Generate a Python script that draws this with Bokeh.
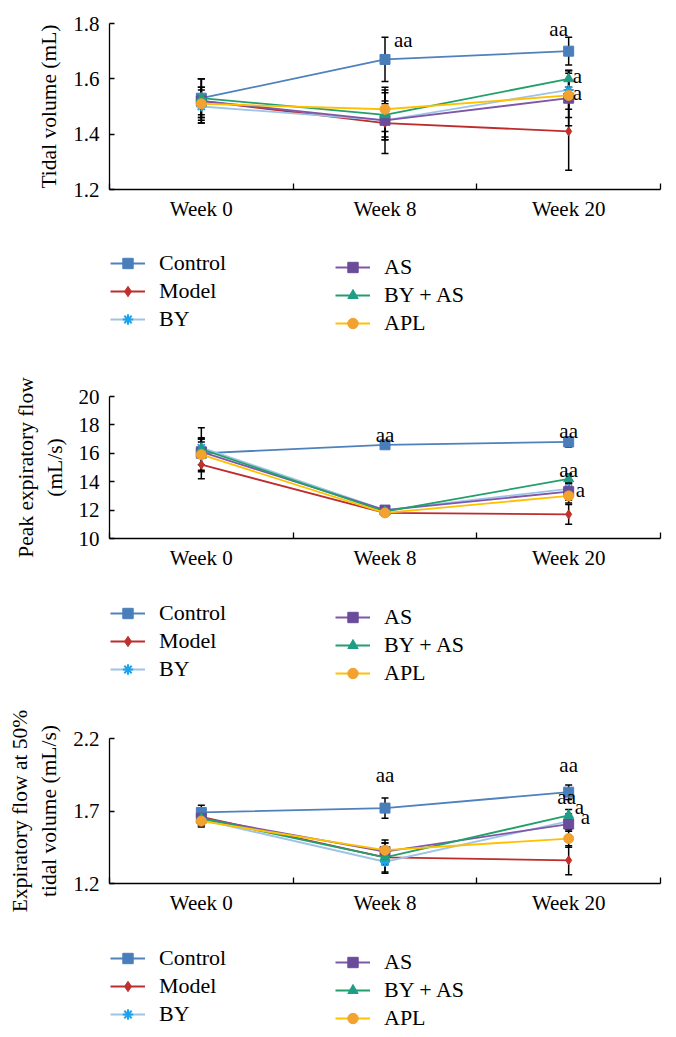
from bokeh.plotting import figure
from bokeh.models import (FixedTicker, Legend, LegendItem, ColumnDataSource, Whisker,
                          TeeHead, Range1d)
from bokeh.layouts import column
from bokeh.embed import file_html
from bokeh.resources import INLINE
from bokeh.core.properties import value

# ---------------- data ----------------
weeks = ["Week 0", "Week 8", "Week 20"]
groups = ["Control", "Model", "BY", "AS", "BY + AS", "APL"]

# Tidal volume (mL): one row per group, one value per week
tidal_means = [
    [1.53, 1.67, 1.70],
    [1.52, 1.44, 1.41],
    [1.50, 1.45, 1.56],
    [1.52, 1.45, 1.53],
    [1.53, 1.47, 1.60],
    [1.51, 1.49, 1.54],
]
tidal_sd = [
    [0.07, 0.08, 0.05],
    [0.08, 0.11, 0.14],
    [0.06, 0.07, 0.07],
    [0.05, 0.06, 0.10],
    [0.07, 0.09, 0.03],
    [0.06, 0.08, 0.08],
]
tidal_ticks = [1.2, 1.4, 1.6, 1.8]

# Peak expiratory flow (mL/s)
peak_means = [
    [16.0, 16.6, 16.8],
    [15.2, 11.8, 11.7],
    [16.4, 12.0, 13.5],
    [16.1, 12.0, 13.3],
    [16.3, 11.9, 14.2],
    [15.9, 11.8, 13.0],
]
peak_sd = [
    [1.8, 0.15, 0.35],
    [0.5, 0.2, 0.7],
    [0.7, 0.2, 0.4],
    [0.9, 0.2, 0.6],
    [0.5, 0.2, 0.35],
    [1.1, 0.2, 0.5],
]
peak_ticks = [10, 12, 14, 16, 18, 20]

# Expiratory flow at 50% tidal volume (mL/s)
ef50_means = [
    [1.69, 1.72, 1.83],
    [1.66, 1.38, 1.36],
    [1.64, 1.35, 1.63],
    [1.65, 1.42, 1.61],
    [1.65, 1.38, 1.67],
    [1.63, 1.43, 1.51],
]
ef50_sd = [
    [0.05, 0.07, 0.05],
    [0.04, 0.10, 0.10],
    [0.04, 0.08, 0.05],
    [0.05, 0.08, 0.05],
    [0.04, 0.05, 0.04],
    [0.04, 0.05, 0.06],
]
ef50_ticks = [1.2, 1.7, 2.2]

# significance marks: text, week index, y (data units)
tidal_sig_text = ["aa", "aa", "a", "a"]
tidal_sig_week = [1, 2, 2, 2]
tidal_sig_y = [1.74, 1.78, 1.61, 1.55]
peak_sig_text = ["aa", "aa", "aa", "a"]
peak_sig_week = [1, 2, 2, 2]
peak_sig_y = [17.3, 17.55, 14.8, 13.45]
ef50_sig_text = ["aa", "aa", "aa", "a", "a"]
ef50_sig_week = [1, 2, 2, 2, 2]
ef50_sig_y = [1.95, 2.02, 1.80, 1.73, 1.66]

# ---------------- styles ----------------
FONT = "Liberation Serif"
line_colors = ["#4F81BD", "#BE2D2D", "#9DC3E6", "#7E57A8", "#22A06B", "#FFC000"]
marker_fill = ["#4A7EBB", "#C0302C", "#1CA3EC", "#6B4C9A", "#1E9E84", "#F2A22E"]
markers = ["square", "diamond", "asterisk", "square", "triangle", "circle"]
marker_sizes = [10, 9, 10, 10, 10, 10]
W = 676
FRAME_LEFT = 109


def add_series(p, xs, ys, g, size_scale=1.0):
    lr = p.line(xs, ys, line_color=line_colors[g], line_width=1.8)
    mr = p.scatter(xs, ys, marker=markers[g], size=marker_sizes[g] * size_scale,
                   fill_color=marker_fill[g], line_color=marker_fill[g],
                   line_width=2 if markers[g] == "asterisk" else 1)
    return lr, mr


def make_panel(means, sds, ticks, ylabel, sig_text, sig_week, sig_y, sig_dx, sig_align,
               height, b_top, frame_h):
    b_bottom = height - b_top - frame_h
    p = figure(width=W, height=height, output_backend="svg", toolbar_location=None,
               x_range=Range1d(-0.5, 2.5), y_range=Range1d(ticks[0], ticks[-1]),
               min_border_left=FRAME_LEFT, min_border_right=16, min_border_top=b_top,
               min_border_bottom=b_bottom)
    p.grid.visible = False
    p.outline_line_color = None

    xs = list(range(len(weeks)))

    for g in range(len(groups)):
        src = ColumnDataSource(dict(
            x=xs,
            upper=[m + s for m, s in zip(means[g], sds[g])],
            lower=[m - s for m, s in zip(means[g], sds[g])],
        ))
        w = Whisker(source=src, base="x", upper="upper", lower="lower",
                    line_color="black", line_width=1.5,
                    upper_head=TeeHead(size=7, line_color="black", line_width=1.5),
                    lower_head=TeeHead(size=7, line_color="black", line_width=1.5))
        p.add_layout(w)

    for g in range(len(groups)):
        add_series(p, xs, means[g], g)

    sig_src = ColumnDataSource(dict(x=sig_week, y=sig_y, t=sig_text, dx=sig_dx, al=sig_align))
    p.text(x="x", y="y", text="t", x_offset="dx", text_align="al", source=sig_src,
           text_font=value(FONT), text_font_size="21px", text_color="black",
           text_baseline="alphabetic")

    xa = p.xaxis[0]
    xa.ticker = FixedTicker(ticks=xs, minor_ticks=[-0.5, 0.5, 1.5, 2.5])
    xa.major_label_overrides = {i: w for i, w in enumerate(weeks)}
    xa.major_tick_in = 0
    xa.major_tick_out = 0
    xa.minor_tick_in = 6
    xa.minor_tick_out = 0
    xa.minor_tick_line_color = "black"
    xa.axis_line_color = "black"
    xa.axis_line_width = 1.3
    xa.minor_tick_line_width = 1.3
    xa.major_label_text_font = FONT
    xa.major_label_text_font_size = "21px"
    xa.major_label_text_color = "black"
    xa.major_label_standoff = 7

    ya = p.yaxis[0]
    ya.ticker = FixedTicker(ticks=ticks)
    ya.major_tick_in = 5
    ya.major_tick_out = 0
    ya.minor_tick_in = 0
    ya.minor_tick_out = 0
    ya.axis_line_color = "black"
    ya.axis_line_width = 1.3
    ya.major_tick_line_width = 1.3
    ya.major_label_text_font = FONT
    ya.major_label_text_font_size = "21px"
    ya.major_label_text_color = "black"
    ya.major_label_standoff = 10
    ya.axis_label = ylabel
    ya.axis_label_text_font = FONT
    ya.axis_label_text_font_size = "21.5px"
    ya.axis_label_text_font_style = "normal"
    ya.axis_label_text_color = "black"
    ya.axis_label_standoff = 9
    return p


def make_legend(height):
    # the column layout aligns this figure's frame with the panels' frames (left = FRAME_LEFT)
    p = figure(width=W, height=height, output_backend="svg", toolbar_location=None,
               x_range=Range1d(0, 1), y_range=Range1d(0, 1),
               min_border_left=FRAME_LEFT, min_border_right=16,
               min_border_top=0, min_border_bottom=0,
               x_axis_type=None, y_axis_type=None)
    p.grid.visible = False
    p.outline_line_color = None
    items = []
    nan = float("nan")
    for g in range(len(groups)):
        # placeholder renderers (not drawn) that carry each series' style for its key
        lr, mr = add_series(p, [nan], [nan], g, size_scale=0.85)
        items.append(LegendItem(label=groups[g], renderers=[lr, mr]))
    item_h, gap = 26, 2
    leg_h = 3 * item_h + 2 * gap
    for its, x0, top in ((items[:3], 110, 20), (items[3:], 335, 24)):
        leg = Legend(items=its, location=(x0 - FRAME_LEFT, height - top - leg_h),
                     orientation="vertical")
        leg.border_line_color = None
        leg.background_fill_alpha = 0
        leg.padding = 0
        leg.margin = 0
        leg.spacing = gap
        leg.glyph_width = 35
        leg.glyph_height = item_h
        leg.label_standoff = 14
        leg.label_height = item_h
        leg.label_width = 10
        leg.label_text_font = FONT
        leg.label_text_font_size = "22px"
        leg.label_text_color = "black"
        leg.label_text_baseline = "middle"
        p.add_layout(leg)
    return p


p1 = make_panel(tidal_means, tidal_sd, tidal_ticks, "Tidal volume (mL)",
                tidal_sig_text, tidal_sig_week, tidal_sig_y,
                [9, -10, 4, 4], ["left", "center", "left", "left"],
                height=230, b_top=23, frame_h=166)
p2 = make_panel(peak_means, peak_sd, peak_ticks, "Peak expiratory flow\n(mL/s)",
                peak_sig_text, peak_sig_week, peak_sig_y,
                [0, 0, 0, 7], ["center", "center", "center", "left"],
                height=220, b_top=36, frame_h=142)
p3 = make_panel(ef50_means, ef50_sd, ef50_ticks,
                "Expiratory flow at 50%\ntidal volume (mL/s)",
                ef50_sig_text, ef50_sig_week, ef50_sig_y,
                [0, 0, -2, 6, 12], ["center", "center", "center", "left", "left"],
                height=215, b_top=28, frame_h=145)

layout = column(p1, make_legend(130), p2, make_legend(130), p3, make_legend(112), spacing=0)
open("out.html", "w").write(file_html(layout, INLINE))
